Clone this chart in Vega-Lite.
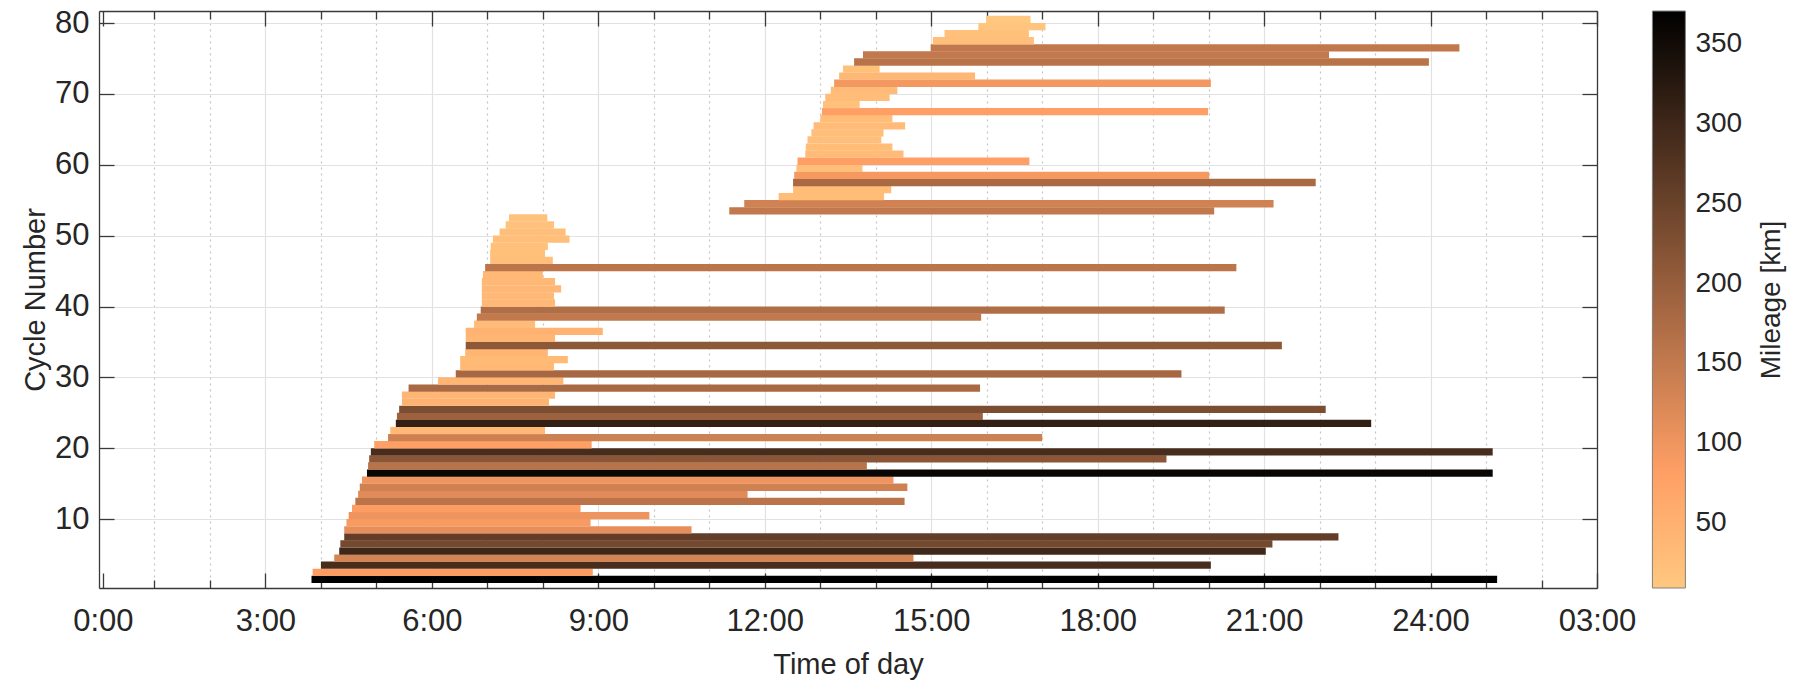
{
  "$schema": "https://vega.github.io/schema/vega-lite/v6.json",
  "width": 1498,
  "height": 577,
  "autosize": {"type": "none"},
  "padding": {"left": 99, "top": 11, "right": 203, "bottom": 93},
  "background": "white",
  "config": {
    "view": {"stroke": null},
    "font": "Liberation Sans",
    "axis": {
      "domainColor": "#3a3a3a",
      "domainWidth": 1.3,
      "tickColor": "#3a3a3a",
      "tickWidth": 1.3,
      "labelColor": "#262626",
      "titleColor": "#262626",
      "labelFont": "Liberation Sans",
      "titleFont": "Liberation Sans",
      "titleFontWeight": "normal"
    },
    "legend": {"padding": 0, "offset": 0}
  },
  "data": {
    "values": [
      {"c": 1, "s": 3.83, "e": 25.20, "m": 371},
      {"c": 2, "s": 3.85, "e": 8.90, "m": 85},
      {"c": 3, "s": 4.00, "e": 20.04, "m": 289},
      {"c": 4, "s": 4.24, "e": 14.68, "m": 129},
      {"c": 5, "s": 4.33, "e": 21.03, "m": 299},
      {"c": 6, "s": 4.35, "e": 21.15, "m": 238},
      {"c": 7, "s": 4.42, "e": 22.34, "m": 259},
      {"c": 8, "s": 4.42, "e": 10.68, "m": 110},
      {"c": 9, "s": 4.46, "e": 8.86, "m": 89},
      {"c": 10, "s": 4.50, "e": 9.92, "m": 101},
      {"c": 11, "s": 4.56, "e": 8.68, "m": 85},
      {"c": 12, "s": 4.62, "e": 14.52, "m": 159},
      {"c": 13, "s": 4.67, "e": 11.69, "m": 117},
      {"c": 14, "s": 4.70, "e": 14.57, "m": 136},
      {"c": 15, "s": 4.74, "e": 14.32, "m": 99},
      {"c": 16, "s": 4.83, "e": 25.12, "m": 360},
      {"c": 17, "s": 4.85, "e": 13.84, "m": 162},
      {"c": 18, "s": 4.87, "e": 19.24, "m": 214},
      {"c": 19, "s": 4.90, "e": 25.12, "m": 289},
      {"c": 20, "s": 4.96, "e": 8.88, "m": 80},
      {"c": 21, "s": 5.21, "e": 17.00, "m": 138},
      {"c": 22, "s": 5.25, "e": 8.04, "m": 37},
      {"c": 23, "s": 5.35, "e": 22.93, "m": 313},
      {"c": 24, "s": 5.37, "e": 15.93, "m": 194},
      {"c": 25, "s": 5.41, "e": 22.11, "m": 231},
      {"c": 26, "s": 5.46, "e": 8.11, "m": 45},
      {"c": 27, "s": 5.46, "e": 8.22, "m": 40},
      {"c": 28, "s": 5.58, "e": 15.88, "m": 180},
      {"c": 29, "s": 6.11, "e": 8.37, "m": 42},
      {"c": 30, "s": 6.43, "e": 19.51, "m": 183},
      {"c": 31, "s": 6.51, "e": 8.20, "m": 37},
      {"c": 32, "s": 6.51, "e": 8.45, "m": 33},
      {"c": 33, "s": 6.60, "e": 8.09, "m": 42},
      {"c": 34, "s": 6.61, "e": 21.32, "m": 211},
      {"c": 35, "s": 6.61, "e": 8.22, "m": 40},
      {"c": 36, "s": 6.61, "e": 9.08, "m": 47},
      {"c": 37, "s": 6.76, "e": 7.86, "m": 29},
      {"c": 38, "s": 6.81, "e": 15.90, "m": 151},
      {"c": 39, "s": 6.88, "e": 20.29, "m": 171},
      {"c": 40, "s": 6.90, "e": 8.22, "m": 36},
      {"c": 41, "s": 6.90, "e": 8.20, "m": 36},
      {"c": 42, "s": 6.90, "e": 8.33, "m": 38},
      {"c": 43, "s": 6.90, "e": 8.22, "m": 36},
      {"c": 44, "s": 6.92, "e": 8.00, "m": 34},
      {"c": 45, "s": 6.96, "e": 20.50, "m": 157},
      {"c": 46, "s": 7.05, "e": 8.18, "m": 24},
      {"c": 47, "s": 7.05, "e": 8.04, "m": 22},
      {"c": 48, "s": 7.06, "e": 8.09, "m": 22},
      {"c": 49, "s": 7.10, "e": 8.48, "m": 26},
      {"c": 50, "s": 7.22, "e": 8.41, "m": 25},
      {"c": 51, "s": 7.33, "e": 8.20, "m": 20},
      {"c": 52, "s": 7.39, "e": 8.08, "m": 18},
      {"c": 53, "s": 11.36, "e": 20.10, "m": 153},
      {"c": 54, "s": 11.63, "e": 21.17, "m": 135},
      {"c": 55, "s": 12.25, "e": 14.15, "m": 28},
      {"c": 56, "s": 12.51, "e": 14.28, "m": 28},
      {"c": 57, "s": 12.51, "e": 21.93, "m": 180},
      {"c": 58, "s": 12.53, "e": 20.01, "m": 93},
      {"c": 59, "s": 12.57, "e": 13.76, "m": 25},
      {"c": 60, "s": 12.59, "e": 16.77, "m": 81},
      {"c": 61, "s": 12.73, "e": 14.50, "m": 30},
      {"c": 62, "s": 12.74, "e": 14.30, "m": 28},
      {"c": 63, "s": 12.77, "e": 14.10, "m": 25},
      {"c": 64, "s": 12.84, "e": 14.14, "m": 26},
      {"c": 65, "s": 12.88, "e": 14.53, "m": 30},
      {"c": 66, "s": 13.00, "e": 14.30, "m": 28},
      {"c": 67, "s": 13.03, "e": 19.99, "m": 81},
      {"c": 68, "s": 13.05, "e": 13.71, "m": 20},
      {"c": 69, "s": 13.09, "e": 14.25, "m": 27},
      {"c": 70, "s": 13.19, "e": 14.39, "m": 30},
      {"c": 71, "s": 13.25, "e": 20.04, "m": 95},
      {"c": 72, "s": 13.34, "e": 15.79, "m": 38},
      {"c": 73, "s": 13.41, "e": 14.07, "m": 22},
      {"c": 74, "s": 13.61, "e": 23.97, "m": 162},
      {"c": 75, "s": 13.77, "e": 22.17, "m": 151},
      {"c": 76, "s": 14.99, "e": 24.52, "m": 153},
      {"c": 77, "s": 15.03, "e": 16.85, "m": 25},
      {"c": 78, "s": 15.24, "e": 16.76, "m": 22},
      {"c": 79, "s": 15.85, "e": 17.06, "m": 15},
      {"c": 80, "s": 15.99, "e": 16.79, "m": 9}
    ]
  },
  "layer": [
    {
      "mark": {"type": "bar", "size": 7.3, "yOffset": -3.606},
      "encoding": {
        "x": {
          "field": "s", "type": "quantitative",
          "scale": {"domain": [0, 27], "nice": false, "zero": false},
          "axis": {
            "orient": "bottom",
            "values": [0.07, 1, 2, 3, 4, 5, 6, 7, 8, 9, 10, 11, 12, 13, 14, 15, 16, 17, 18, 19, 20, 21, 22, 23, 24, 25, 26, 27],
            "labelExpr": "datum.value < 0.5 ? '0:00' : (datum.value == 27 ? '03:00' : (datum.value % 3 == 0 ? datum.value + ':00' : ''))",
            "labelFontSize": 31,
            "labelPadding": 33,
            "labelFlush": false,
            "labelOverlap": false,
            "labelBound": false,
            "tickSize": {"condition": {"test": "datum.value % 3 == 0 || datum.value < 0.5", "value": -15}, "value": -8},
            "grid": true,
            "gridDash": {"condition": {"test": "datum.value % 3 == 0", "value": [1, 0]}, "value": [2, 4]},
            "gridColor": {"condition": {"test": "datum.value % 3 == 0", "value": "#e2e2e2"}, "value": "#c4c4c4"},
            "gridOpacity": {"condition": {"test": "datum.value < 0.5", "value": 0}, "value": 1},
            "gridWidth": 1.2,
            "title": "Time of day",
            "titleFontSize": 29,
            "titlePadding": 7
          }
        },
        "x2": {"field": "e"},
        "y": {
          "field": "c", "type": "quantitative",
          "scale": {"domain": [1, 81], "nice": false, "zero": false},
          "axis": {
            "orient": "left",
            "values": [10, 20, 30, 40, 50, 60, 70, 80],
            "labelFontSize": 31,
            "tickSize": -15,
            "labelPadding": 25,
            "grid": true,
            "gridColor": "#e2e2e2",
            "gridWidth": 1.2,
            "title": "Cycle Number",
            "titleFontSize": 29,
            "titlePadding": 4
          }
        },
        "color": {
          "field": "m", "type": "quantitative",
          "scale": {"domain": [9, 81.4, 371], "range": ["#FFC77F", "#FF9F65", "#000000"], "interpolate": "rgb"},
          "legend": {
            "orient": "none",
            "legendX": 1553.4,
            "legendY": 0,
            "direction": "vertical",
            "gradientLength": 577,
            "gradientThickness": 33,
            "gradientStrokeColor": "#808080",
            "gradientStrokeWidth": 1,
            "values": [50, 100, 150, 200, 250, 300, 350],
            "labelFontSize": 28,
            "labelColor": "#262626",
            "labelOffset": 10,
            "labelOverlap": false,
            "title": "Mileage [km]",
            "titleFontSize": 28,
            "titleFontWeight": "normal",
            "titleColor": "#262626",
            "titleOrient": "right",
            "titleAnchor": "middle",
            "titleBaseline": "top",
            "titlePadding": 16,
            "encode": {"title": {"update": {"angle": {"value": 270}}}}
          }
        }
      }
    },
    {
      "mark": {"type": "point", "opacity": 0},
      "encoding": {
        "x": {
          "field": "s", "type": "quantitative",
          "axis": {
            "orient": "top",
            "values": [0.07, 1, 2, 3, 4, 5, 6, 7, 8, 9, 10, 11, 12, 13, 14, 15, 16, 17, 18, 19, 20, 21, 22, 23, 24, 25, 26, 27],
            "labels": false,
            "grid": false,
            "title": null,
            "tickSize": {"condition": {"test": "datum.value % 3 == 0 || datum.value < 0.5", "value": -15}, "value": -8}
          }
        },
        "y": {
          "field": "c", "type": "quantitative",
          "axis": {
            "orient": "right",
            "values": [10, 20, 30, 40, 50, 60, 70, 80],
            "labels": false,
            "grid": false,
            "title": null,
            "tickSize": -15
          }
        }
      }
    }
  ],
  "resolve": {"axis": {"x": "independent", "y": "independent"}}
}
